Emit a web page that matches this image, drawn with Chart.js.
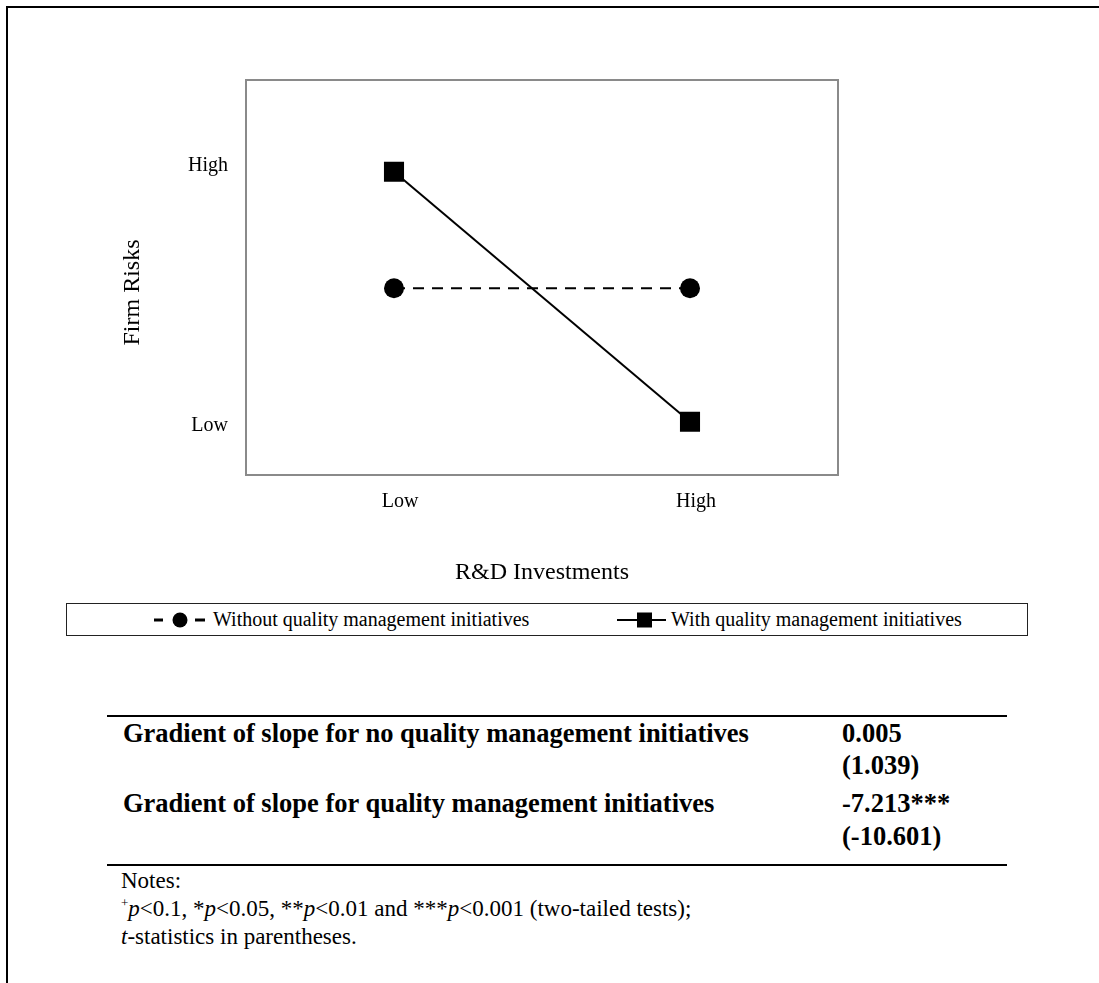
<!DOCTYPE html>
<html>
<head>
<meta charset="utf-8">
<script src="https://cdn.jsdelivr.net/npm/chart.js@4.4.1/dist/chart.umd.min.js"></script>
<style>
  html, body { margin: 0; padding: 0; background: #fff; overflow: hidden; }
  body { width: 1099px; height: 983px; position: relative; font-family: "Liberation Serif", "Times New Roman", serif; color: #000; }
  #frame { position: absolute; left: 6px; top: 6px; width: 1300px; height: 1200px; border: 2.5px solid #000; box-sizing: border-box; }
  #chartWrap { position: absolute; left: 0; top: 0; width: 1099px; height: 600px; }
  #legend { position: absolute; left: 66px; top: 603px; width: 962px; height: 33px; border: 1px solid #222; box-sizing: border-box; }
  .legItem { position: absolute; top: 0; height: 31px; display: flex; align-items: center; font-size: 20px; white-space: nowrap; }
  .legItem svg { margin-right: 4px; }
  .rule { position: absolute; left: 107px; width: 900px; height: 2px; background: #000; }
  #table { position: absolute; left: 0; top: 716px; font-weight: bold; font-size: 26.5px; line-height: 32.3px; }
  .cellL { position: absolute; left: 123px; white-space: nowrap; }
  .cellR { position: absolute; left: 842px; white-space: nowrap; }
  #notes { position: absolute; left: 121px; top: 867px; font-size: 23px; line-height: 28px; white-space: nowrap; }
  #notes sup { font-size: 13px; vertical-align: 9px; line-height: 0; }
</style>
</head>
<body>
<div id="frame"></div>
<div id="chartWrap"><canvas id="slopeChart"></canvas></div>

<div id="legend">
  <div class="legItem" style="left:86px;">
    <svg width="56" height="20" viewBox="0 0 56 20">
      <line x1="1" y1="10" x2="10" y2="10" stroke="#000" stroke-width="3"/>
      <circle cx="27" cy="10" r="7.5" fill="#000"/>
      <line x1="42" y1="10" x2="52" y2="10" stroke="#000" stroke-width="3"/>
    </svg>
    <span id="leg0"></span>
  </div>
  <div class="legItem" style="left:550px;">
    <svg width="50" height="20" viewBox="0 0 50 20">
      <line x1="0" y1="10" x2="49" y2="10" stroke="#000" stroke-width="2"/>
      <rect x="20" y="2.5" width="15" height="15" fill="#000"/>
    </svg>
    <span id="leg1"></span>
  </div>
</div>

<div class="rule" style="top:715px;"></div>
<div id="table">
  <div class="cellL" style="top:1px;">Gradient of slope for no quality management initiatives</div>
  <div class="cellR" style="top:1px;">0.005</div>
  <div class="cellR" style="top:33px;">(1.039)</div>
  <div class="cellL" style="top:71px;">Gradient of slope for quality management initiatives</div>
  <div class="cellR" style="top:71px;">-7.213***</div>
  <div class="cellR" style="top:104px;">(-10.601)</div>
</div>
<div class="rule" style="top:864px;"></div>
<div id="notes">
  Notes:<br>
  <sup>+</sup><i>p</i>&lt;0.1, *<i>p</i>&lt;0.05, **<i>p</i>&lt;0.01 and ***<i>p</i>&lt;0.001 (two-tailed tests);<br>
  <i>t</i>-statistics in parentheses.
</div>

<script>
const serif = '"Liberation Serif", "Times New Roman", serif';

// categories and values
const xLabels = ['Low', 'High'];
const seriesNames = ['Without quality management initiatives', 'With quality management initiatives'];
const withoutQM = [0.530, 0.530];
const withQM = [0.978, 0.017];
const yTickValues = [0, 1];
const yTickLabels = ['Low', 'High'];
const yMin = -0.188;
const yMax = 1.331;
const yTitle = 'Firm Risks';
const xTitle = 'R&D Investments';

document.getElementById('leg0').innerText = seriesNames[0];
document.getElementById('leg1').innerText = seriesNames[1];

Chart.defaults.font.family = serif;
Chart.defaults.color = '#000';

const boxPlugin = {
    id: 'plotBox',
    beforeDatasetsDraw(chart) {
        const a = chart.chartArea;
        const ctx = chart.ctx;
        ctx.save();
        ctx.strokeStyle = '#8a8a8a';
        ctx.lineWidth = 2;
        ctx.strokeRect(a.left, a.top, a.right - a.left, a.bottom - a.top);
        ctx.restore();
    }
};

// y title sits a bit below the middle of the plot in the original
const yTitlePlugin = {
    id: 'yTitle',
    afterDraw(chart) {
        const ctx = chart.ctx;
        const a = chart.chartArea;
        ctx.save();
        ctx.translate(133, (a.top + a.bottom) / 2 + 15);
        ctx.rotate(-Math.PI / 2);
        ctx.font = '24px ' + serif;
        ctx.fillStyle = '#000';
        ctx.textAlign = 'center';
        ctx.textBaseline = 'middle';
        ctx.fillText(yTitle, 0, 0);
        ctx.restore();
    }
};

new Chart(document.getElementById('slopeChart'), {
    type: 'line',
    data: {
        labels: xLabels,
        datasets: [
            {
                label: seriesNames[0],
                data: withoutQM,
                borderColor: '#000',
                backgroundColor: '#000',
                borderWidth: 2,
                borderDash: [11, 8],
                pointStyle: 'circle',
                pointRadius: 10,
                pointBorderWidth: 0,
                fill: false
            },
            {
                label: seriesNames[1],
                data: withQM,
                borderColor: '#000',
                backgroundColor: '#000',
                borderWidth: 2,
                pointStyle: 'rect',
                pointRadius: 14.2,
                pointBorderWidth: 0,
                fill: false
            }
        ]
    },
    options: {
        responsive: true,
        maintainAspectRatio: false,
        animation: false,
        layout: { padding: { left: 119, right: 261, top: 80, bottom: 0 } },
        plugins: { legend: { display: false }, tooltip: { enabled: false } },
        scales: {
            x: {
                type: 'category',
                offset: true,
                grid: { display: false, drawTicks: false },
                border: { display: false },
                ticks: { font: { size: 20 }, padding: 15, labelOffset: 6 },
                title: { display: true, text: xTitle, font: { size: 24 }, padding: { top: 0, bottom: 13 } },
                afterFit(scale) { scale.height = 125; }
            },
            y: {
                type: 'linear',
                min: yMin,
                max: yMax,
                grid: { display: false, drawTicks: false },
                border: { display: false },
                afterBuildTicks(scale) { scale.ticks = yTickValues.map(v => ({ value: v })); },
                ticks: {
                    font: { size: 20 },
                    padding: 18,
                    callback: (value) => yTickLabels[yTickValues.indexOf(value)]
                },
                afterFit(scale) { scale.width = 127; }
            }
        }
    },
    plugins: [boxPlugin, yTitlePlugin]
});
</script>
</body>
</html>
